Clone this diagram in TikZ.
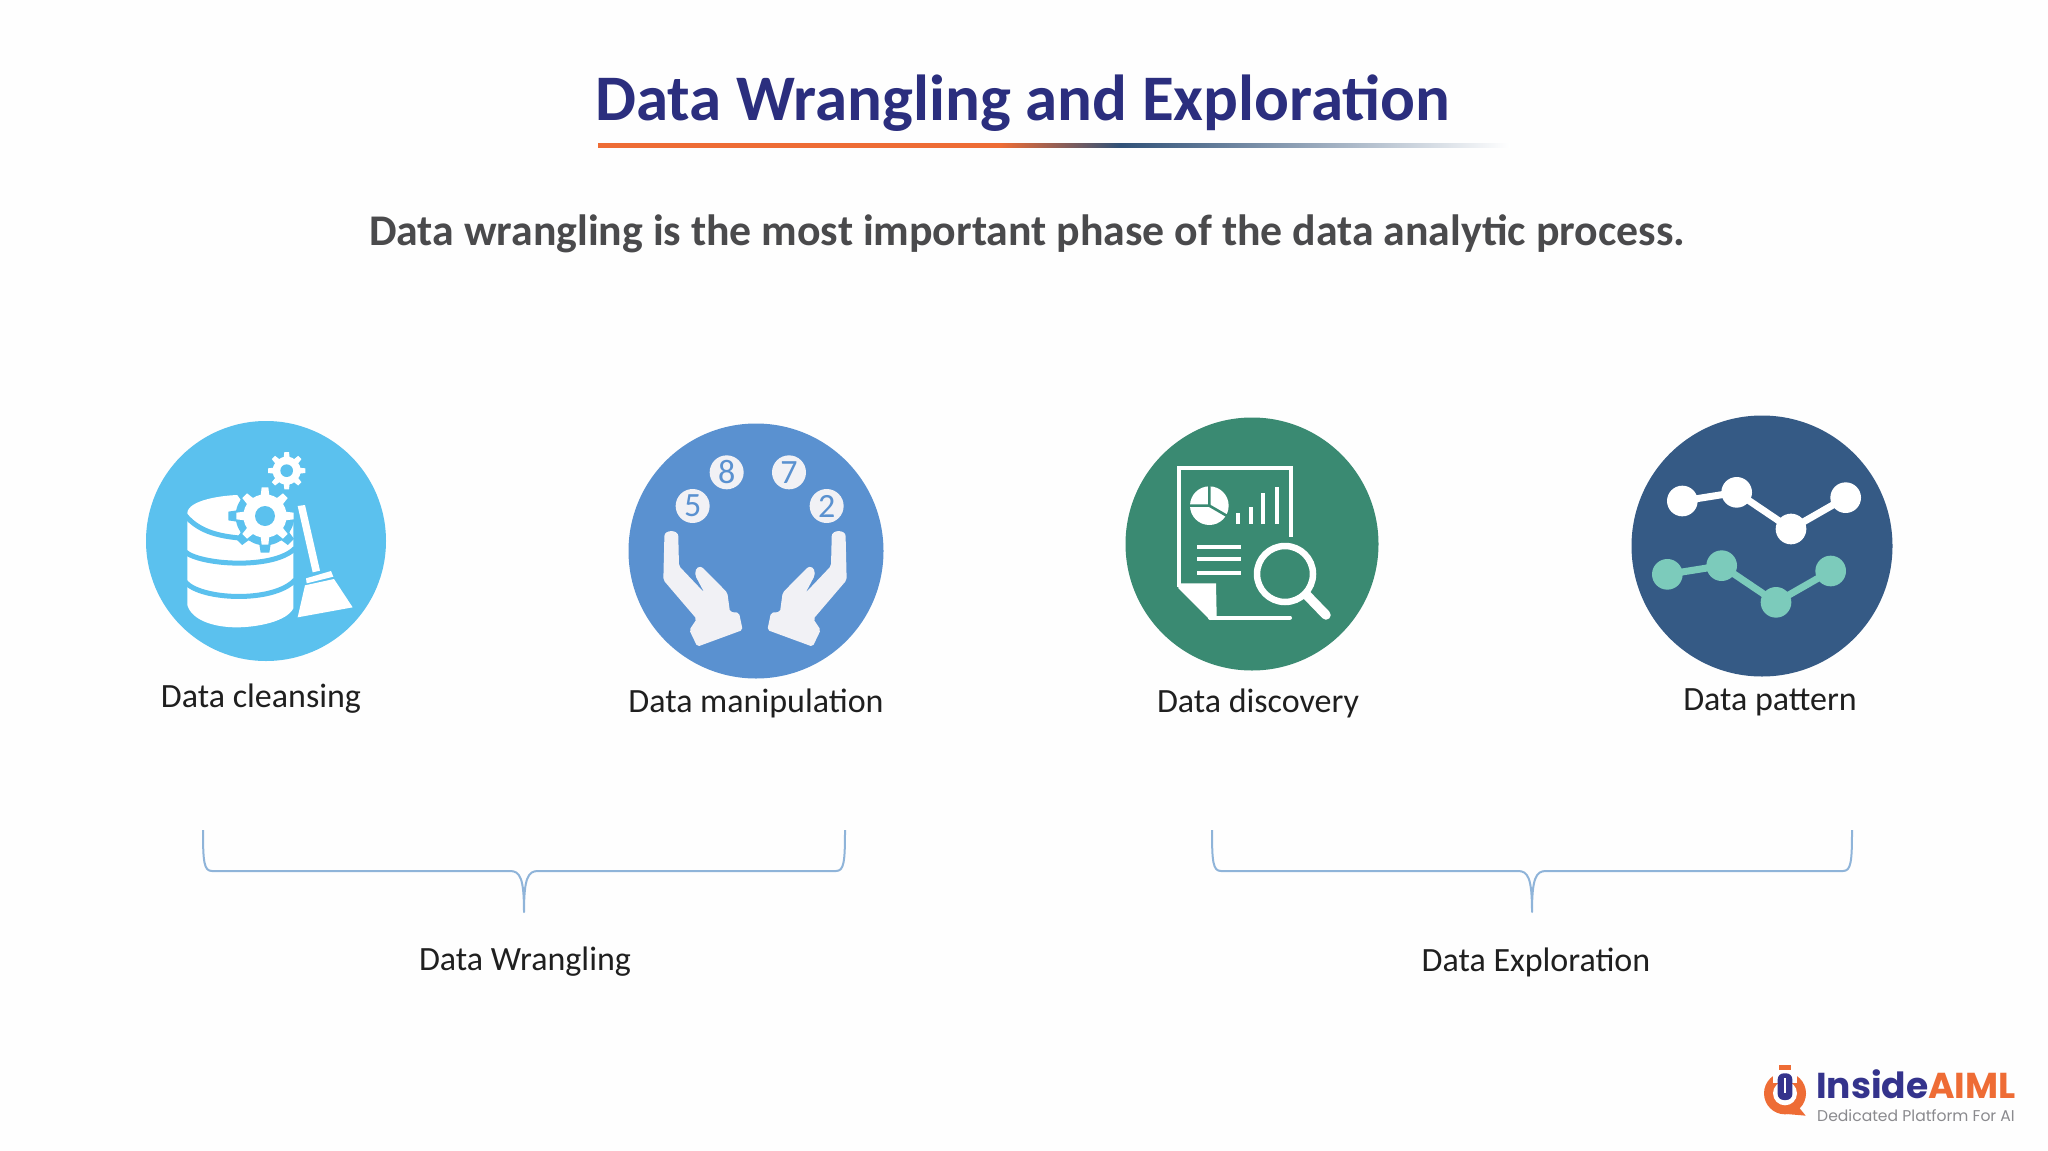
\documentclass[tikz,border=0pt]{standalone}
\usepackage{fontspec}
\setmainfont{Carlito}
\newfontfamily\logofont{Poppins}
\usetikzlibrary{calc}
\definecolor{navyT}{HTML}{2B2E7E}
\definecolor{subT}{HTML}{4A4A4C}
\definecolor{cOne}{HTML}{5BC1EE}
\definecolor{cTwo}{HTML}{5A91D0}
\definecolor{cThree}{HTML}{3A8A72}
\definecolor{cFour}{HTML}{355A85}
\definecolor{tealDot}{HTML}{7CCBBB}
\definecolor{paleW}{HTML}{F1F1F5}
\definecolor{braceC}{HTML}{8FB4D9}
\definecolor{oranL}{HTML}{EE6C35}
\definecolor{navyL}{HTML}{34338C}
\definecolor{grayL}{HTML}{8A8A8E}
\newcommand{\fsz}[1]{\fontsize{#1}{#1}\selectfont}
% gear: x y rbody rtip toothwidth teeth colour
\newcommand{\geardraw}[7]{%
  \fill[#7] (#1,#2) circle[radius=#3];
  \foreach \ang in {1,...,#6}{%
    \fill[#7,shift={(#1,#2)},rotate=\ang*360/#6]
      (#3-4,-#5/2) -- (#4,-#5/2.6) -- (#4,#5/2.6) -- (#3-4,#5/2) -- cycle;
  }%
}
\newcommand{\handpath}{%
  \fill[paleW,rounded corners=2pt] (163,385) .. controls (163,358) and (205,358) .. (205,385)
    -- (207,468) -- (283,548) -- (256,497) .. controls (255,472) and (270,466) .. (283,478)
    -- (352,548) -- (360,606) -- (387,608) -- (398,660) -- (262,710) -- (238,660)
    -- (260,627) -- (160,510) -- cycle;
}
\tikzset{
  disc/.style={circle,draw=none,inner sep=0pt},
  lab/.style={font=\fsz{34},text=black!88,inner sep=0pt},
  brace/.style={draw=braceC,line width=2pt,line join=round},
  num/.style={font=\fsz{34},text=cTwo,inner sep=0pt},
  zoomA/.style={x=.33333pt,y=-.33333pt}
}
\begin{document}
\begin{tikzpicture}[x=1pt,y=-1pt]
\useasboundingbox (0,0) rectangle (2048,1151);
\fill[white!99.6!black] (0,0) rectangle (2048,1151);

% title
\node[font=\fsz{65}\bfseries,text=navyT,inner sep=0pt] (title) at (1023,103) {Data Wrangling and Exploration};
\shade[left color=oranL,right color=oranL] (598,143) rectangle (1000,147);
\shade[left color=oranL,right color=cFour!90!black] (1000,143) rectangle (1120,147);
\shade[left color=cFour!90!black,right color=white] (1120,143) rectangle (1510,147);
\node[font=\fsz{43.8}\bfseries,text=subT,inner sep=0pt] (subtitle) at (1027,234) {Data wrangling is the most important phase of the data analytic process.};

% discs
\node[disc,fill=cOne,minimum size=240pt] (d1) at (266,541) {};
\node[disc,fill=cTwo,minimum size=255pt] (d2) at (756,551) {};
\node[disc,fill=cThree,minimum size=253pt] (d3) at (1252,544) {};
\node[disc,fill=cFour,minimum size=261pt] (d4) at (1762,546) {};

% icon 1
\begin{scope}[shift={(130,400)},zoomA]
  \fill[white] (172,340) .. controls (172,300) and (280,285) .. (330,285)
     .. controls (400,285) and (490,300) .. (490,345) -- (490,625)
     .. controls (470,665) and (380,682) .. (320,682)
     .. controls (250,682) and (185,660) .. (172,615) -- cycle;
  \draw[cOne,line width=5pt] (165,345) .. controls (210,400) and (280,410) .. (340,415);
  \draw[cOne,line width=5pt] (165,455) .. controls (210,495) and (430,510) .. (495,445);
  \draw[cOne,line width=5pt] (165,545) .. controls (210,600) and (430,610) .. (495,540);
  \geardraw{405}{348}{88}{110}{34}{8}{cOne}
  \geardraw{405}{348}{65}{86}{26}{8}{white}
  \fill[cOne] (405,348) circle[radius=30];
  \geardraw{470}{212}{42}{56}{18}{8}{white}
  \fill[cOne] (470,212) circle[radius=19];
  \fill[white] (503,318) -- (525,315) -- (570,512) -- (548,517) -- cycle;
  \fill[white] (528,535) -- (603,513) -- (610,530) -- (530,550) -- cycle;
  \fill[white] (525,556) -- (612,537) -- (668,622) -- (503,652) -- cycle;
\end{scope}

% icon 2
\begin{scope}[shift={(610,410)},zoomA]
  \node[disc,fill=paleW,minimum size=34pt,num] (n5) at (248,288) {5};
  \node[disc,fill=paleW,minimum size=34pt,num] (n8) at (350,187) {8};
  \node[disc,fill=paleW,minimum size=34pt,num] (n7) at (537,187) {7};
  \node[disc,fill=paleW,minimum size=34pt,num] (n2) at (650,288) {2};
  \handpath
  \begin{scope}[shift={(870,0)},x=-.33333pt]
    \handpath
  \end{scope}
\end{scope}

% icon 3
\begin{scope}[shift={(1110,405)},zoomA]
  \fill[white] (205,535) -- (318,535) -- (320,632) -- (300,645) -- (205,550) -- cycle;
  \draw[white,line width=4pt] (542,395) -- (542,190) -- (208,190) -- (208,545);
  \draw[white,line width=4pt,line cap=round] (300,638) -- (540,638);
  \fill[white] (298,302) circle[radius=58];
  \draw[cThree,line width=2.6pt] (298,302) -- (298,240) (298,302) -- (235,302) (298,302) -- (355,335);
  \foreach \bx/\by in {383/325,422/305,460/265,500/245}{
    \fill[white] (\bx-6,\by) rectangle (\bx+6,356);
  }
  \foreach \ly in {427,463,503}{
    \fill[white] (262,\ly-6) rectangle (393,\ly+6);
  }
  \draw[white,line width=6.5pt] (525,507) circle[radius=84];
  \draw[white,line width=9.5pt,line cap=round] (590,570) -- (648,630);
\end{scope}

% icon 4
\begin{scope}[shift={(1620,405)},zoomA]
  \draw[white,line width=7pt] (187,288) -- (350,262) -- (513,372) -- (677,278);
  \foreach \px/\py in {187/288,350/262,513/372,677/278}{
    \fill[white] (\px,\py) circle[radius=46];
  }
  \draw[tealDot,line width=7pt] (142,508) -- (305,482) -- (468,592) -- (632,498);
  \foreach \px/\py in {142/508,305/482,468/592,632/498}{
    \fill[tealDot] (\px,\py) circle[radius=46];
  }
\end{scope}

% labels
\node[lab] (l1) at (261,699) {Data cleansing};
\node[lab] (l2) at (756,703) {Data manipulation};
\node[lab] (l3) at (1258,703) {Data discovery};
\node[lab] (l4) at (1770,702) {Data pattern};
\node[lab] (l5) at (525,962) {Data Wrangling};
\node[lab] (l6) at (1536,962) {Data Exploration};

% braces
\draw[brace] (203,830) .. controls (203,862) and (204,871) .. (212,871) -- (510,871)
   .. controls (520,871) and (524,878) .. (524,912)
   .. controls (524,878) and (528,871) .. (538,871) -- (836,871)
   .. controls (844,871) and (845,862) .. (845,830);
\draw[brace] (1212,830) .. controls (1212,862) and (1213,871) .. (1221,871) -- (1518,871)
   .. controls (1528,871) and (1532,878) .. (1532,912)
   .. controls (1532,878) and (1536,871) .. (1546,871) -- (1843,871)
   .. controls (1851,871) and (1852,862) .. (1852,830);

% logo
\begin{scope}[shift={(1740,1050)},zoomA]
  \fill[oranL] (135,130) circle[radius=63];
  \fill[oranL] (175,170) -- (197,197) -- (140,192) -- cycle;
  \fill[white] (135,130) circle[radius=36];
  \fill[white] (100,40) rectangle (170,100);
  \fill[oranL] (118,45) rectangle (152,60);
  \fill[navyL,rounded corners=6pt] (113,70) -- (157,70) -- (157,150) -- (113,150) -- cycle;
  \fill[white] (132,85) rectangle (138,130);
\end{scope}
\node[font=\logofont\bfseries\fsz{36},inner sep=0pt,anchor=west] (logoT) at (1816,1084) {\textcolor{navyL}{Inside}\textcolor{oranL}{AIML}};
\node[font=\logofont\fsz{15.6},text=grayL,inner sep=0pt,anchor=west] (logoS) at (1817,1116) {Dedicated Platform For AI};
\end{tikzpicture}
\end{document}
